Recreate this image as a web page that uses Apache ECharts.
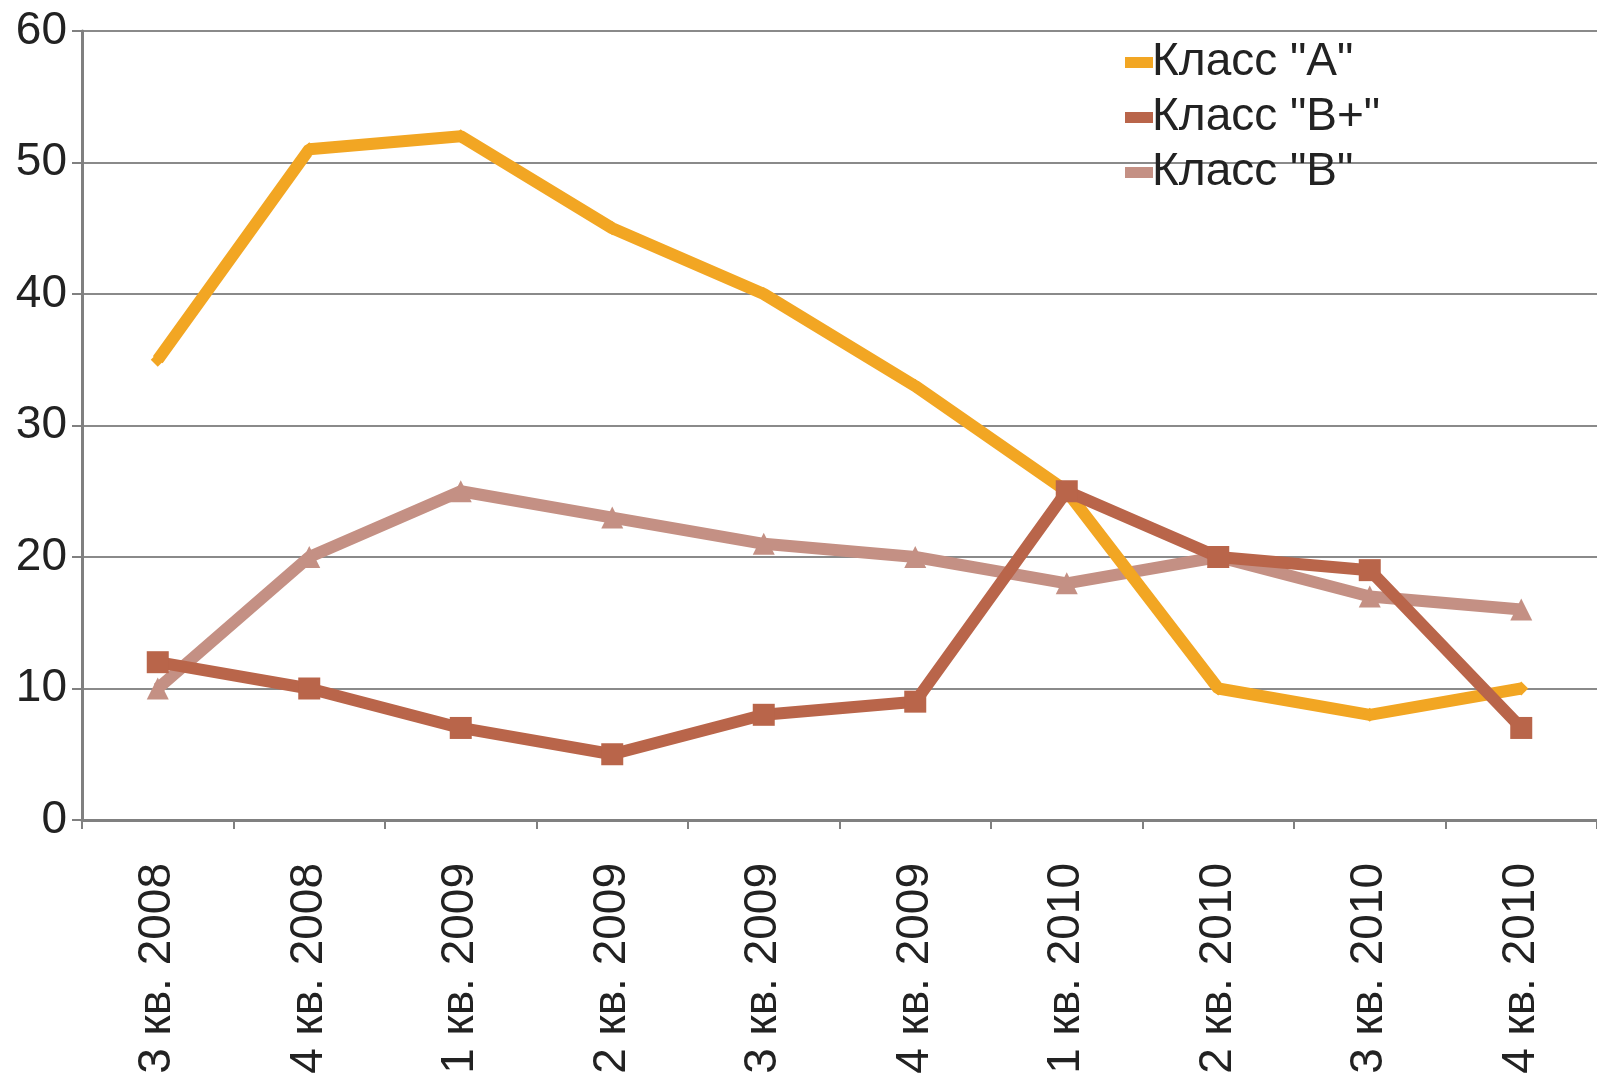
<!DOCTYPE html>
<html>
<head>
<meta charset="utf-8">
<script src="https://cdn.jsdelivr.net/npm/echarts@6/dist/echarts.min.js"></script>
<style>
html,body{margin:0;padding:0;background:#fff;}
#c{width:1597px;height:1084px;}
</style>
</head>
<body>
<div id="c"></div>
<script>
const categories = ["3 кв. 2008","4 кв. 2008","1 кв. 2009","2 кв. 2009","3 кв. 2009","4 кв. 2009","1 кв. 2010","2 кв. 2010","3 кв. 2010","4 кв. 2010"];
const classA = [35, 51, 52, 45, 40, 33, 25, 10, 8, 10];
const classBplus = [12, 10, 7, 5, 8, 9, 25, 20, 19, 7];
const classB = [10, 20, 25, 23, 21, 20, 18, 20, 17, 16];
const seriesNames = ['Класс "A"', 'Класс "B+"', 'Класс "B"'];

const chart = echarts.init(document.getElementById('c'));
const font = 'Liberation Sans, Arial, sans-serif';
chart.setOption({
  animation: false,
  backgroundColor: '#ffffff',
  grid: {left: 82, right: 0, top: 31, bottom: 264},
  legend: {
    orient: 'vertical',
    left: 1120, top: 34,
    itemWidth: 28, itemHeight: 11, itemGap: 8,
    icon: 'rect',
    textStyle: {fontFamily: font, fontSize: 46, lineHeight: 47, color: '#222', padding: [0,0,0,-6]},
    data: seriesNames
  },
  xAxis: {
    type: 'category',
    data: categories,
    boundaryGap: true,
    axisLine: {lineStyle: {color: '#808080', width: 3}},
    axisTick: {show: true, length: 9, lineStyle: {color: '#808080', width: 2}},
    axisLabel: {rotate: 90, margin: 43, fontFamily: font, fontSize: 46, color: '#222'}
  },
  yAxis: {
    type: 'value', min: 0, max: 60, interval: 10,
    axisLine: {show: true, lineStyle: {color: '#808080', width: 3}},
    axisTick: {show: true, length: 10, lineStyle: {color: '#808080', width: 2}},
    axisLabel: {margin: 15, fontFamily: font, fontSize: 46, color: '#222'},
    splitLine: {lineStyle: {color: '#8a8a8a', width: 2}}
  },
  series: [
    {name: seriesNames[0], type: 'line', data: classA, color: '#F2A623',
     lineStyle: {width: 12}, symbol: 'diamond', symbolSize: 14, z: 3},
    {name: seriesNames[1], type: 'line', data: classBplus, color: '#B9654A',
     lineStyle: {width: 12}, symbol: 'rect', symbolSize: 22, z: 4},
    {name: seriesNames[2], type: 'line', data: classB, color: '#C49084',
     lineStyle: {width: 12}, symbol: 'triangle', symbolSize: 22, z: 2}
  ]
});
</script>
</body>
</html>
